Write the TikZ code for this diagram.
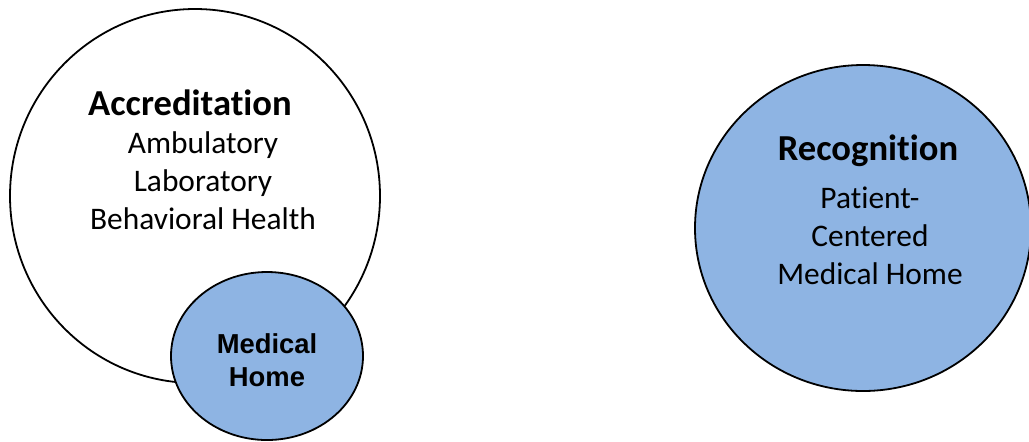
\documentclass[tikz,border=0pt]{standalone}
\usepackage{fontspec}
\setmainfont{Carlito}[Ligatures=NoCommon]
\newfontfamily\arialfont{Liberation Sans}
\usetikzlibrary{shapes.geometric}
\definecolor{paleblue}{RGB}{142,180,227}
\tikzset{
  ring/.style={ellipse, draw, line width=.9pt, inner sep=0pt},
  title/.style={anchor=base, font=\bfseries\fontsize{18.3}{22}\selectfont},
  body/.style={anchor=base, font=\fontsize{15.7}{19}\selectfont},
  small/.style={anchor=base, font=\arialfont\bfseries\fontsize{13.7}{16}\selectfont},
}
\begin{document}
\begin{tikzpicture}[x=.5pt, y=-.5pt]
\useasboundingbox (0,0) rectangle (1029,441);
% circles
\node[ring, fill=white, minimum width=185pt, minimum height=187pt] (accr) at (195,196) {};
\node[ring, fill=paleblue, minimum width=96pt, minimum height=84pt] (home) at (267,356) {};
\node[ring, fill=paleblue, minimum width=168pt, minimum height=163pt] (recog) at (863,228) {};
% texts
\node[title] (accr-t) at (190,115) {Accreditation};
\foreach \t [count=\i] in {Ambulatory, Laboratory, Behavioral Health}
  \node[body] (accr-\i) at (203,115+38*\i) {\t};
\node[small] (home-1) at (267,353) {Medical};
\node[small] (home-2) at (267,386) {Home};
\node[title] (recog-t) at (868,160) {Recognition};
\foreach \t [count=\i] in {Patient-, Centered, Medical Home}
  \node[body] (recog-\i) at (870,170+38*\i) {\t};
\end{tikzpicture}
\end{document}
